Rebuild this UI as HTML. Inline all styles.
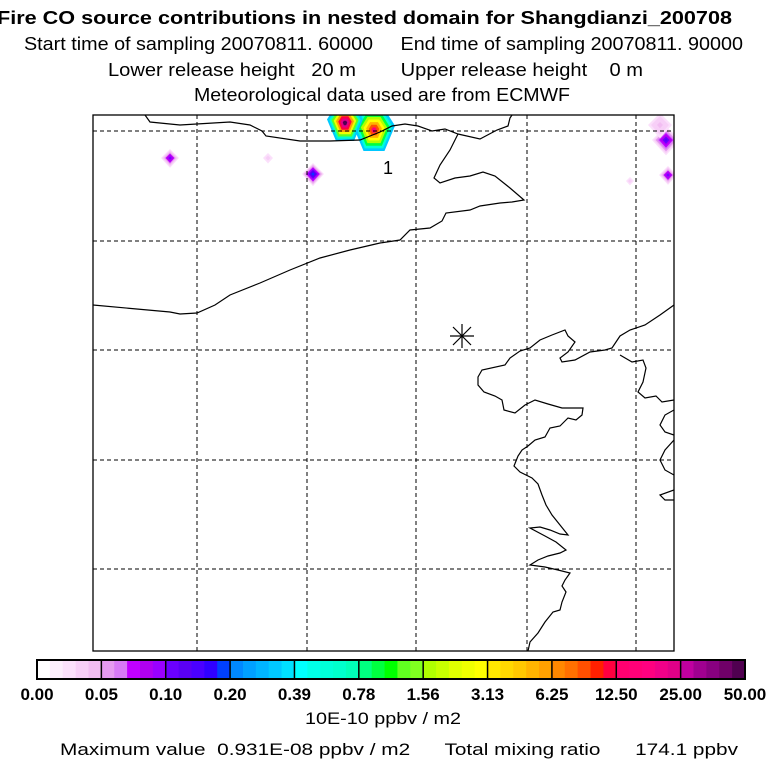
<!DOCTYPE html>
<html><head><meta charset="utf-8"><style>
body{margin:0;background:#fff;}
svg text{font-family:"Liberation Sans",sans-serif;}
</style></head><body>
<svg width="768" height="768" viewBox="0 0 768 768">
<g font-size="18.5" fill="#000">
<text x="-3" y="24" font-weight="bold" textLength="735" lengthAdjust="spacingAndGlyphs">Fire CO source contributions in nested domain for Shangdianzi_200708</text>
<text x="24" y="50" textLength="719" lengthAdjust="spacingAndGlyphs" xml:space="preserve">Start time of sampling 20070811. 60000     End time of sampling 20070811. 90000</text>
<text x="108" y="76" textLength="535" lengthAdjust="spacingAndGlyphs" xml:space="preserve">Lower release height   20 m        Upper release height    0 m</text>
<text x="194" y="101" textLength="376" lengthAdjust="spacingAndGlyphs">Meteorological data used are from ECMWF</text>
</g>
<defs><clipPath id="clip"><rect x="93" y="115" width="581" height="536"/></clipPath></defs>
<g id="plumes" clip-path="url(#clip)"></g>
<g id="grid"></g>
<g id="coast" clip-path="url(#clip)" fill="none" stroke="#000" stroke-width="1.2"></g>
<rect x="93" y="115" width="581" height="536" fill="none" stroke="#000" stroke-width="1.3"/>
<text x="383" y="174" font-size="18">1</text>
<g stroke="#000" stroke-width="1.2">
<line x1="450" y1="336" x2="474" y2="336"/><line x1="462" y1="324" x2="462" y2="348"/>
<line x1="453" y1="327" x2="471" y2="345"/><line x1="471" y1="327" x2="453" y2="345"/></g>
<g id="cbar"></g>
<text x="305" y="724" font-size="17" textLength="156" lengthAdjust="spacingAndGlyphs">10E-10 ppbv / m2</text>
<text x="60" y="755" font-size="17" textLength="678" lengthAdjust="spacingAndGlyphs" xml:space="preserve">Maximum value  0.931E-08 ppbv / m2      Total mixing ratio      174.1 ppbv</text>
</svg>
<script>
const levels=["0.00","0.05","0.10","0.20","0.39","0.78","1.56","3.13","6.25","12.50","25.00","50.00"];
const subColors=[
["#ffffff","#fdeefd","#fbe0fb","#f7cff7","#f2bdf2"],
["#e59bf0","#d77af5","#c000ff","#b000f0","#9a00ff"],
["#6a00ff","#5a00f5","#4a00ff","#3000ff","#0040ff"],
["#0088ff","#00a0ff","#00b4ff","#00c8ff","#00e0ff"],
["#00ffff","#00ffe8","#00ffd8","#00ffcc","#00ffb8"],
["#00ff80","#00ff40","#00ff00","#60ff20","#80ff20"],
["#b0ff00","#c8ff00","#e0ff00","#f0ff00","#ffff00"],
["#ffe800","#ffd800","#ffc800","#ffb400","#ffa000"],
["#ff8800","#ff7000","#ff5000","#ff2000","#ff0040"],
["#ff0070","#ff0078","#ff0080","#f00088","#e00088"],
["#c000a0","#a00090","#880080","#700068","#500050"]];
const gridX=[197,307,416,527,636];
const gridY=[131,241,350,460,569];
// plume centres (px), peak colour index (0-54 across colour scale), radius
const plumeX=[170,268,313,630,374,345,666,668,660];
const plumeY=[158,158,174,181,130,123,140,175,125];
const plumeVal=[10,3,14,3,46,54,11,10,4];
const plumeR=[9,5,11,4,21,18,14,9,12];
const NS="http://www.w3.org/2000/svg";
function mk(t,a,p){const e=document.createElementNS(NS,t);for(const k in a)e.setAttribute(k,a[k]);p.appendChild(e);return e;}
const flat=[].concat(...subColors);
function colorOf(v){return flat[Math.max(0,Math.min(flat.length-1,Math.round(v)))];}
// colorbar
const cb=document.getElementById('cbar');const x0=37,x1=745,bw=(x1-x0)/11;
const cx=i=>x0+i*bw;
subColors.forEach((g,i)=>g.forEach((c,j)=>{const r=mk('rect',{x:cx(i)+j*bw/5,y:660,width:bw/5+0.5,height:19,fill:c},cb);

}));
for(let i=0;i<=11;i++){mk('line',{x1:cx(i),y1:660,x2:cx(i),y2:679,stroke:'#000','stroke-width':1.5},cb);
const t=mk('text',{x:cx(i),y:700,'font-size':17,'font-weight':'bold','text-anchor':'middle'},cb);t.textContent=levels[i];

}
mk('rect',{x:x0,y:660,width:x1-x0,height:19,fill:'none',stroke:'#000','stroke-width':2},cb);
// grid
const gr=document.getElementById('grid');
gridX.forEach(x=>{const l=mk('line',{x1:x,y1:115,x2:x,y2:651,stroke:'#000','stroke-dasharray':'4,3'},gr);

});
gridY.forEach(y=>{const l=mk('line',{x1:93,y1:y,x2:674,y2:y,stroke:'#000','stroke-dasharray':'4,3'},gr);

});
// plumes
const pl=document.getElementById('plumes');
plumeX.forEach((x,i)=>{const y=plumeY[i],v=plumeVal[i],R=plumeR[i];const n=8;
const big=v>30;const vmin=big?18:2;
for(let k=0;k<n;k++){const f=1-k/n;const r=R*f;const val=vmin+(v-vmin)*k/(n-1);
const pts=big?`${x-r*0.5},${y-r} ${x+r*0.5},${y-r} ${x+r},${y-r*0.2} ${x+r*0.5},${y+r} ${x-r*0.5},${y+r} ${x-r},${y-r*0.2}`
:`${x},${y-r} ${x+r},${y} ${x},${y+r*1.1} ${x-r},${y}`;
const p=mk('polygon',{points:pts,fill:colorOf(val)},pl);

}});
// coastlines
const coasts=[
"145,115 150,122 180,125 230,122 250,125 262,131 266,136 300,141 330,141 360,140 380,132 392,126 405,124 418,126 432,131 445,129 458,134 480,139 497,130 508,126 510,118 512,115",
"458,134 450,150 440,165 434,178 440,183 455,178 470,176 483,172 495,176 510,188 524,200 512,202 500,203 480,206 470,210 446,213 442,221 430,228 410,230 400,240 380,243 350,250 320,258 290,270 260,283 230,295 215,305 197,313 180,314 170,312 93,305",
"674,305 660,315 645,325 630,330 620,336 612,348 605,350 590,352 575,360 562,362 560,358 568,352 575,342 568,336 565,330 552,335 540,340 530,348 520,351 510,358 505,365 482,370 478,377 478,385 484,392 495,396 502,400 504,410 515,413 525,405 535,400 548,404 562,408 583,408 582,415 576,420 568,418 560,426 550,428 545,437 535,440 528,446 522,450 518,456 514,466 520,472 532,478 538,484 542,495 546,505 552,515 560,525 568,535 560,534 550,530 540,527 530,528 545,536 556,542 566,550 560,553 548,556 538,560 530,565 545,567 558,570 570,573 565,580 562,586 566,592 562,602 560,610 553,612 545,622 538,633 530,642 528,651",
"620,355 632,362 643,360 646,368 643,382 638,392 645,398 656,396 662,402 674,400",
"674,410 665,415 660,425 665,432 674,435",
"674,440 665,450 660,460 665,470 674,475",
"674,490 660,495 665,500 674,500"];
const co=document.getElementById('coast');
coasts.forEach(s=>{const p=mk('polyline',{points:s},co);

});
</script>
</body></html>
